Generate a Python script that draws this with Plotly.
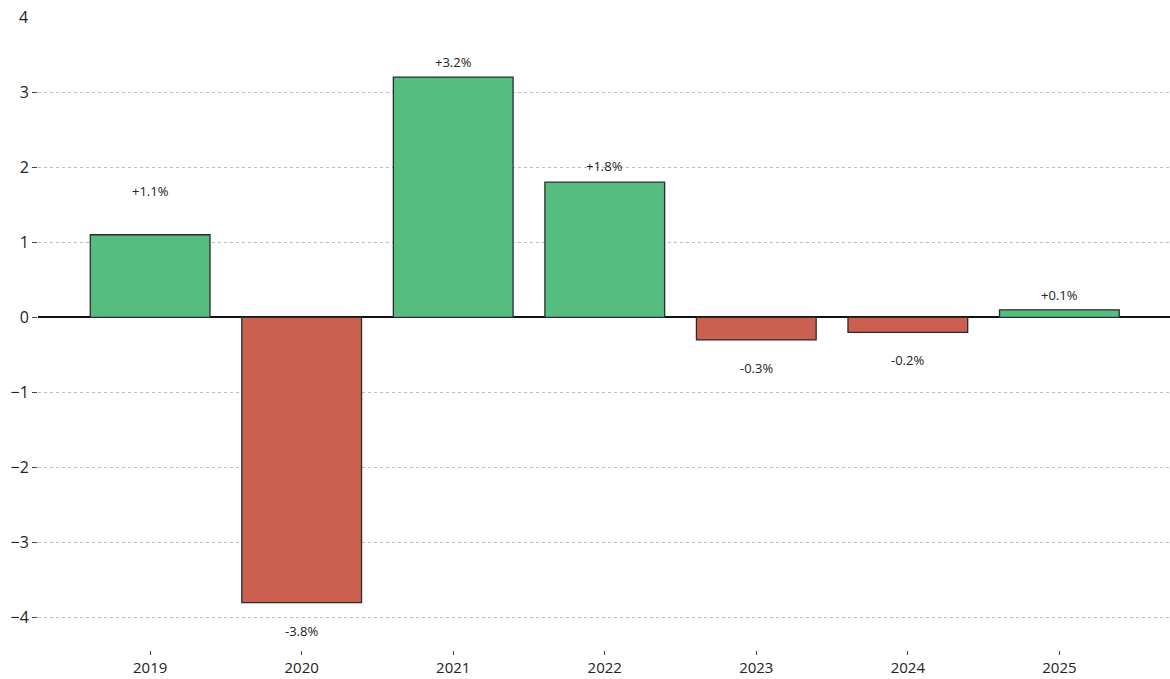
import plotly.graph_objects as go

years = ["2019", "2020", "2021", "2022", "2023", "2024", "2025"]
values = [1.1, -3.8, 3.2, 1.8, -0.3, -0.2, 0.1]
labels = ["+1.1%", "-3.8%", "+3.2%", "+1.8%", "-0.3%", "-0.2%", "+0.1%"]
label_shift_px = [44, -28, 15, 16, -28, -28, 15]
y_ticks = [-4, -3, -2, -1, 0, 1, 2, 3]
y_ticktext = ["\u22124", "\u22123", "\u22122", "\u22121", "0", "1", "2", "3"]
y_top = 4
y_bottom = -4.43

GREEN = "#55BD80"
RED = "#CB6051"
colors = [GREEN if v >= 0 else RED for v in values]

fig = go.Figure()
fig.add_trace(go.Bar(
    x=years, y=values,
    marker=dict(color=colors, line=dict(color="#2b2b2b", width=1.3)),
    width=0.79,
    hoverinfo="skip",
))

for i, (v, t, s) in enumerate(zip(values, labels, label_shift_px)):
    fig.add_annotation(x=i, y=v, xref="x", yref="y", text=t, showarrow=False,
                       yshift=s, yanchor="middle", xanchor="center",
                       font=dict(size=13, color="#222222"))

# top axis label (no tick mark / gridline in the reference)
fig.add_annotation(x=0, xref="paper", y=y_top, yref="y", text=str(y_top),
                   showarrow=False, xanchor="right", yanchor="middle",
                   xshift=-8, font=dict(size=16, color="#222222"))

fig.update_layout(
    width=1170, height=679,
    margin=dict(l=38, r=0, t=17, b=29),
    paper_bgcolor="white", plot_bgcolor="white",
    font=dict(family="Open Sans, Lato, sans-serif", color="#222222", size=16),
    showlegend=False,
    xaxis=dict(type="category", range=[-0.74, 6.73], showgrid=False,
               showline=False, zeroline=False, automargin=False,
               ticks="outside", ticklen=4, tickcolor="#444444", tickwidth=1,
               tickfont=dict(size=15, color="#222222")),
    yaxis=dict(range=[y_bottom, y_top], tickvals=y_ticks, ticktext=y_ticktext,
               automargin=False,
               showgrid=True, gridcolor="#bdbdbd", griddash="3px,3px", gridwidth=1,
               zeroline=True, zerolinecolor="#111111", zerolinewidth=1.6,
               showline=False, ticks="outside", ticklen=5, tickcolor="#444444",
               tickwidth=1, tickfont=dict(size=16, color="#222222")),
)

fig.write_html("out.html", config={"displayModeBar": False},
               post_script="document.body.style.margin='0';")
